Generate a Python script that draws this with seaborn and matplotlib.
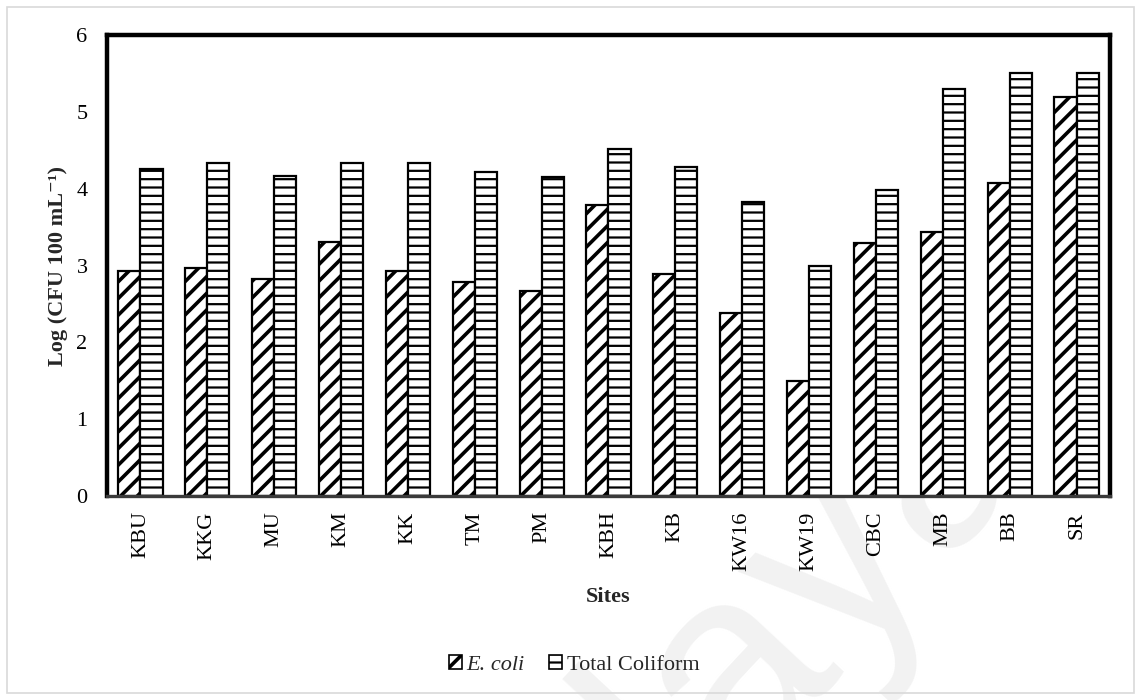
import matplotlib
matplotlib.use("Agg")
import matplotlib.pyplot as plt
from matplotlib.patches import Rectangle
import seaborn as sns
import pandas as pd

# Sampling sites and log-transformed bacterial counts
sites = ["KBU", "KKG", "MU", "KM", "KK", "TM", "PM", "KBH", "KB",
         "KW16", "KW19", "CBC", "MB", "BB", "SR"]
ecoli = [2.93, 2.97, 2.82, 3.30, 2.93, 2.79, 2.67, 3.79, 2.89,
         2.38, 1.50, 3.29, 3.43, 4.07, 5.19]
total_coliform = [4.26, 4.33, 4.16, 4.34, 4.33, 4.22, 4.15, 4.51, 4.28,
                  3.83, 3.00, 3.98, 5.30, 5.51, 5.50]
series = ["E. coli", "Total Coliform"]
y_ticks = [0, 1, 2, 3, 4, 5, 6]

df = pd.DataFrame({
    "Site": sites * 2,
    "Organism": [series[0]] * len(sites) + [series[1]] * len(sites),
    "Log": ecoli + total_coliform,
})

sns.set_theme(style="white")
plt.rcParams["font.family"] = ["Liberation Serif", "DejaVu Serif"]
plt.rcParams["hatch.color"] = "black"
plt.rcParams["hatch.linewidth"] = 2.2

hatches = ["//", "--"]
hatch_lw = [2.6, 1.6]


def set_hatch_width(patch, lw):
    if hasattr(patch, "set_hatch_linewidth"):
        patch.set_hatch_linewidth(lw)


fig = plt.figure(figsize=(11.41, 7), dpi=100)

# Faint background watermark, drawn beneath the axes
fig.text(0.91, 0.37, "Malaya", fontsize=200, color="#f2f2f2",
         family="Liberation Sans", rotation=47, rotation_mode="anchor",
         ha="right", va="baseline", zorder=-5)

ax = fig.add_axes([0.0938, 0.2914, 0.8790, 0.6586])

sns.barplot(data=df, x="Site", y="Log", hue="Organism", hue_order=series,
            palette=["white", "white"], edgecolor="black", linewidth=1.6,
            width=0.66, ax=ax, legend=False)

for cont, h, lw in zip(ax.containers, hatches, hatch_lw):
    for p in cont.patches:
        p.set_hatch(h)
        set_hatch_width(p, lw)

ax.set_ylim(0, 6)
ax.set_yticks(y_ticks)
ax.set_xlim(-0.5, len(sites) - 0.5)
ax.tick_params(axis="both", length=0, labelsize=16, colors="black")
ax.tick_params(axis="y", pad=14)
ax.tick_params(axis="x", pad=11)
plt.setp(ax.get_xticklabels(), rotation=90)

for side in ["left", "top", "right"]:
    ax.spines[side].set_visible(True)
    ax.spines[side].set_color("black")
    ax.spines[side].set_linewidth(3.2)
ax.spines["bottom"].set_color("#3a3a3a")
ax.spines["bottom"].set_linewidth(2.4)

ax.set_xlabel("Sites", fontsize=16, fontweight="bold", labelpad=12)
ax.set_ylabel("Log (CFU 100 mL\u207b\u00b9)", fontsize=16, fontweight="bold",
              labelpad=6)

# Legend with small hatched swatches
handles = []
for h, lw in zip(hatches, hatch_lw):
    r = Rectangle((0, 0), 1, 1, facecolor="white", edgecolor="black",
                  linewidth=1.2, hatch=h)
    set_hatch_width(r, lw)
    handles.append(r)
leg = fig.legend(handles, series, loc="center", ncol=2,
                 bbox_to_anchor=(0.503, 0.05), frameon=False, fontsize=16,
                 handlelength=0.6, handleheight=0.6, handletextpad=0.2,
                 columnspacing=1.1)
leg.get_texts()[0].set_fontstyle("italic")
for lh, lw in zip(leg.legend_handles, hatch_lw):
    set_hatch_width(lh, lw)

# Thin light frame around the whole figure
fig.add_artist(Rectangle((0.006, 0.01), 0.988, 0.98, transform=fig.transFigure,
                         fill=False, edgecolor="#d9d9d9", linewidth=1.2))

fig.savefig("out.png", dpi=100, facecolor="white")
